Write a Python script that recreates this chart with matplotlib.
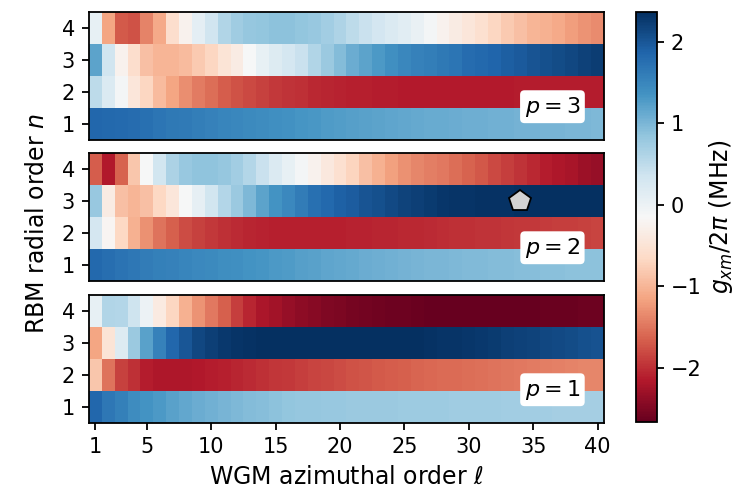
import numpy as np
import matplotlib
matplotlib.use("Agg")
import matplotlib.pyplot as plt

# azimutal order l and radial order n
ell = np.arange(1, 41)
n_rad = [1, 2, 3, 4]
p_vals = [3, 2, 1]

# g_xm / 2pi in MHz (rows n=1..4)
p3_n1 = [1.85, 1.82, 1.8, 1.78, 1.74, 1.7, 1.66, 1.63, 1.6, 1.56, 1.52, 1.5, 1.46, 1.43, 1.4, 1.37, 1.34, 1.31, 1.28, 1.26,
         1.24, 1.21, 1.19, 1.17, 1.15, 1.13, 1.12, 1.11, 1.1, 1.09, 1.08, 1.07, 1.06, 1.05, 1.04, 1.03, 1.02, 1.01, 1.0, 0.98]
p3_n2 = [0.5, 0.22, -0.1, -0.45, -0.7, -0.95, -1.15, -1.33, -1.45, -1.55, -1.68, -1.75, -1.82, -1.88, -1.93, -1.97, -2.0, -2.04, -2.06, -2.08,
         -2.1, -2.11, -2.12, -2.13, -2.14, -2.14, -2.14, -2.14, -2.14, -2.14, -2.14, -2.14, -2.14, -2.13, -2.13, -2.13, -2.13, -2.13, -2.13, -2.12]
p3_n3 = [1.2, 0.35, -0.25, -0.6, -0.9, -1.0, -1.0, -0.95, -0.8, -0.7, -0.5, -0.35, -0.15, 0.05, 0.2, 0.3, 0.42, 0.6, 0.78, 0.95,
         1.1, 1.2, 1.3, 1.4, 1.5, 1.55, 1.6, 1.65, 1.7, 1.78, 1.82, 1.87, 1.92, 1.97, 2.02, 2.07, 2.1, 2.15, 2.2, 2.25]
p3_n4 = [0.05, -1.15, -1.7, -1.75, -1.4, -1.1, -0.6, -0.25, 0.1, 0.35, 0.6, 0.75, 0.82, 0.85, 0.88, 0.88, 0.85, 0.8, 0.72, 0.62,
         0.5, 0.42, 0.32, 0.22, 0.14, 0.04, -0.1, -0.25, -0.35, -0.45, -0.55, -0.7, -0.8, -0.9, -1.0, -1.05, -1.1, -1.2, -1.28, -1.35]

p2_n1 = [1.82, 1.77, 1.72, 1.67, 1.62, 1.58, 1.55, 1.52, 1.48, 1.45, 1.42, 1.39, 1.36, 1.33, 1.3, 1.27, 1.24, 1.21, 1.18, 1.15,
         1.13, 1.1, 1.08, 1.06, 1.04, 1.03, 1.01, 1.0, 0.99, 0.97, 0.96, 0.95, 0.94, 0.93, 0.92, 0.91, 0.9, 0.89, 0.88, 0.88]
p2_n2 = [0.3, -0.2, -0.68, -1.05, -1.3, -1.52, -1.65, -1.8, -1.88, -1.93, -2.0, -2.03, -2.06, -2.08, -2.1, -2.11, -2.11, -2.11, -2.1, -2.1,
         -2.09, -2.08, -2.07, -2.06, -2.05, -2.04, -2.03, -2.02, -2.0, -1.99, -1.98, -1.97, -1.95, -1.94, -1.93, -1.91, -1.9, -1.89, -1.87, -1.86]
p2_n3 = [0.8, -0.35, -0.9, -1.0, -0.9, -0.68, -0.45, -0.15, 0.08, 0.33, 0.58, 0.78, 0.98, 1.2, 1.36, 1.48, 1.62, 1.75, 1.82, 1.9,
         1.95, 2.02, 2.07, 2.13, 2.18, 2.23, 2.27, 2.3, 2.32, 2.33, 2.34, 2.35, 2.35, 2.36, 2.36, 2.37, 2.37, 2.37, 2.37, 2.37]
p2_n4 = [-1.68, -2.17, -1.63, -0.85, -0.15, 0.33, 0.65, 0.8, 0.86, 0.86, 0.82, 0.72, 0.58, 0.42, 0.22, 0.05, -0.1, -0.25, -0.42, -0.55,
         -0.72, -0.9, -1.05, -1.18, -1.3, -1.38, -1.43, -1.48, -1.56, -1.63, -1.72, -1.82, -1.9, -1.98, -2.05, -2.12, -2.18, -2.23, -2.3, -2.35]

p1_n1 = [1.85, 1.68, 1.57, 1.44, 1.36, 1.29, 1.22, 1.15, 1.1, 1.06, 1.02, 0.98, 0.95, 0.92, 0.88, 0.85, 0.83, 0.82, 0.81, 0.8,
         0.79, 0.79, 0.78, 0.78, 0.77, 0.77, 0.76, 0.76, 0.75, 0.75, 0.74, 0.74, 0.73, 0.73, 0.72, 0.72, 0.71, 0.71, 0.7, 0.7]
p1_n2 = [-0.85, -1.52, -1.88, -2.0, -2.13, -2.18, -2.18, -2.18, -2.17, -2.13, -2.1, -2.06, -2.03, -2.0, -1.96, -1.93, -1.9, -1.86, -1.83, -1.8,
         -1.76, -1.73, -1.7, -1.68, -1.65, -1.62, -1.6, -1.58, -1.57, -1.55, -1.53, -1.51, -1.49, -1.47, -1.46, -1.44, -1.42, -1.41, -1.39, -1.38]
p1_n3 = [-1.15, -0.5, 0.2, 0.78, 1.22, 1.55, 1.85, 2.0, 2.15, 2.22, 2.28, 2.32, 2.35, 2.36, 2.37, 2.37, 2.37, 2.37, 2.37, 2.37,
         2.37, 2.37, 2.37, 2.37, 2.36, 2.36, 2.35, 2.33, 2.32, 2.3, 2.28, 2.26, 2.23, 2.2, 2.18, 2.15, 2.12, 2.1, 2.07, 2.05]
p1_n4 = [0.05, 0.6, 0.58, 0.38, 0.0, -0.38, -0.7, -1.05, -1.28, -1.47, -1.65, -1.9, -2.07, -2.2, -2.27, -2.34, -2.4, -2.45, -2.5, -2.53,
         -2.56, -2.58, -2.6, -2.62, -2.63, -2.65, -2.66, -2.66, -2.67, -2.67, -2.67, -2.67, -2.67, -2.66, -2.66, -2.65, -2.65, -2.64, -2.63, -2.62]

panels = {
    3: np.array([p3_n1, p3_n2, p3_n3, p3_n4]),
    2: np.array([p2_n1, p2_n2, p2_n3, p2_n4]),
    1: np.array([p1_n1, p1_n2, p1_n3, p1_n4]),
}

# marked mode (l, n) in p=2 panel
mark_l, mark_n = 34, 3

plt.rcParams['font.size'] = 15
plt.rcParams['axes.labelsize'] = 17
for a in ('xtick', 'ytick'):
    plt.rcParams[a + '.major.size'] = 5
    plt.rcParams[a + '.major.width'] = 1.3
    plt.rcParams[a + '.major.pad'] = 5

fig = plt.figure(figsize=(7.47, 4.98), dpi=100)
vmin = min(d.min() for d in panels.values())
vmax = max(d.max() for d in panels.values())

x_edges = np.append(ell - 0.5, ell[-1] + 0.5)
y_edges = np.append(np.array(n_rad) - 0.5, n_rad[-1] + 0.5)

bottoms = [0.7189, 0.4357, 0.1506]
for i, p in enumerate(p_vals):
    ax = fig.add_axes([0.1191, bottoms[i], 0.6894, 0.2570])
    mesh = ax.pcolormesh(x_edges, y_edges, panels[p], cmap='RdBu', vmin=vmin, vmax=vmax)
    ax.set_yticks(n_rad)
    ax.set_xlim(x_edges[0], x_edges[-1])
    ax.set_ylim(y_edges[0], y_edges[-1])
    ax.text(0.9, 0.26, '$p = %d$' % p, transform=ax.transAxes, ha='center', va='center', fontsize=16,
            bbox=dict(boxstyle='round,pad=0.2', facecolor='white', edgecolor='none'))
    for s in ax.spines.values():
        s.set_linewidth(1.3)
    if i < 2:
        ax.set_xticks([])
    else:
        ax.set_xticks([1, 5, 10, 15, 20, 25, 30, 35, 40])
        ax.set_xlabel(r'WGM azimuthal order $\ell$', labelpad=6)
    if p == 2:
        ax.plot(mark_l, mark_n, marker='p', ms=16, mfc='#d3d3d3', mec='black', mew=1.3)

fig.text(0.05, 0.552, 'RBM radial order $n$', rotation=90, ha='center', va='center', fontsize=17)

cax = fig.add_axes([0.8514, 0.1526, 0.0281, 0.8233])
cb = fig.colorbar(mesh, cax=cax, ticks=[-2, -1, 0, 1, 2])
cb.set_label(r'$g_{xm}/2\pi$ (MHz)')
cb.outline.set_linewidth(1.3)

fig.savefig('out.png', dpi=100)
